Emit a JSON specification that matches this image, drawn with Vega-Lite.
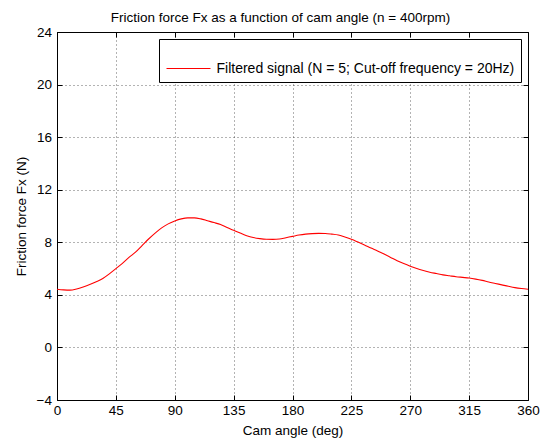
{
  "$schema": "https://vega.github.io/schema/vega-lite/v6.json",
  "width": 471,
  "height": 368,
  "autosize": {"type": "none"},
  "padding": {"left": 57, "top": 32, "right": 14, "bottom": 41},
  "background": "white",
  "title": {
    "text": "Friction force Fx as a function of cam angle (n = 400rpm)",
    "font": "Liberation Sans",
    "fontSize": 13.5,
    "fontWeight": "normal",
    "color": "#000000",
    "offset": 1,
    "dx": -12
  },
  "config": {
    "view": {"stroke": "#000000", "strokeWidth": 1},
    "font": "Liberation Sans"
  },
  "data": {
    "values": [
      {"angle": 0, "fx": 4.43, "series": "Filtered signal (N = 5; Cut-off frequency = 20Hz)"},
      {"angle": 5, "fx": 4.38, "series": "Filtered signal (N = 5; Cut-off frequency = 20Hz)"},
      {"angle": 10, "fx": 4.36, "series": "Filtered signal (N = 5; Cut-off frequency = 20Hz)"},
      {"angle": 15, "fx": 4.45, "series": "Filtered signal (N = 5; Cut-off frequency = 20Hz)"},
      {"angle": 20, "fx": 4.6, "series": "Filtered signal (N = 5; Cut-off frequency = 20Hz)"},
      {"angle": 25, "fx": 4.78, "series": "Filtered signal (N = 5; Cut-off frequency = 20Hz)"},
      {"angle": 30, "fx": 5.0, "series": "Filtered signal (N = 5; Cut-off frequency = 20Hz)"},
      {"angle": 35, "fx": 5.25, "series": "Filtered signal (N = 5; Cut-off frequency = 20Hz)"},
      {"angle": 40, "fx": 5.6, "series": "Filtered signal (N = 5; Cut-off frequency = 20Hz)"},
      {"angle": 45, "fx": 6.0, "series": "Filtered signal (N = 5; Cut-off frequency = 20Hz)"},
      {"angle": 50, "fx": 6.4, "series": "Filtered signal (N = 5; Cut-off frequency = 20Hz)"},
      {"angle": 55, "fx": 6.85, "series": "Filtered signal (N = 5; Cut-off frequency = 20Hz)"},
      {"angle": 60, "fx": 7.25, "series": "Filtered signal (N = 5; Cut-off frequency = 20Hz)"},
      {"angle": 65, "fx": 7.75, "series": "Filtered signal (N = 5; Cut-off frequency = 20Hz)"},
      {"angle": 70, "fx": 8.25, "series": "Filtered signal (N = 5; Cut-off frequency = 20Hz)"},
      {"angle": 75, "fx": 8.7, "series": "Filtered signal (N = 5; Cut-off frequency = 20Hz)"},
      {"angle": 80, "fx": 9.1, "series": "Filtered signal (N = 5; Cut-off frequency = 20Hz)"},
      {"angle": 85, "fx": 9.4, "series": "Filtered signal (N = 5; Cut-off frequency = 20Hz)"},
      {"angle": 90, "fx": 9.62, "series": "Filtered signal (N = 5; Cut-off frequency = 20Hz)"},
      {"angle": 95, "fx": 9.78, "series": "Filtered signal (N = 5; Cut-off frequency = 20Hz)"},
      {"angle": 100, "fx": 9.86, "series": "Filtered signal (N = 5; Cut-off frequency = 20Hz)"},
      {"angle": 105, "fx": 9.86, "series": "Filtered signal (N = 5; Cut-off frequency = 20Hz)"},
      {"angle": 110, "fx": 9.78, "series": "Filtered signal (N = 5; Cut-off frequency = 20Hz)"},
      {"angle": 115, "fx": 9.64, "series": "Filtered signal (N = 5; Cut-off frequency = 20Hz)"},
      {"angle": 120, "fx": 9.5, "series": "Filtered signal (N = 5; Cut-off frequency = 20Hz)"},
      {"angle": 125, "fx": 9.35, "series": "Filtered signal (N = 5; Cut-off frequency = 20Hz)"},
      {"angle": 130, "fx": 9.12, "series": "Filtered signal (N = 5; Cut-off frequency = 20Hz)"},
      {"angle": 135, "fx": 8.91, "series": "Filtered signal (N = 5; Cut-off frequency = 20Hz)"},
      {"angle": 140, "fx": 8.7, "series": "Filtered signal (N = 5; Cut-off frequency = 20Hz)"},
      {"angle": 145, "fx": 8.5, "series": "Filtered signal (N = 5; Cut-off frequency = 20Hz)"},
      {"angle": 150, "fx": 8.36, "series": "Filtered signal (N = 5; Cut-off frequency = 20Hz)"},
      {"angle": 155, "fx": 8.28, "series": "Filtered signal (N = 5; Cut-off frequency = 20Hz)"},
      {"angle": 160, "fx": 8.23, "series": "Filtered signal (N = 5; Cut-off frequency = 20Hz)"},
      {"angle": 165, "fx": 8.22, "series": "Filtered signal (N = 5; Cut-off frequency = 20Hz)"},
      {"angle": 170, "fx": 8.25, "series": "Filtered signal (N = 5; Cut-off frequency = 20Hz)"},
      {"angle": 175, "fx": 8.35, "series": "Filtered signal (N = 5; Cut-off frequency = 20Hz)"},
      {"angle": 180, "fx": 8.45, "series": "Filtered signal (N = 5; Cut-off frequency = 20Hz)"},
      {"angle": 185, "fx": 8.55, "series": "Filtered signal (N = 5; Cut-off frequency = 20Hz)"},
      {"angle": 190, "fx": 8.62, "series": "Filtered signal (N = 5; Cut-off frequency = 20Hz)"},
      {"angle": 195, "fx": 8.66, "series": "Filtered signal (N = 5; Cut-off frequency = 20Hz)"},
      {"angle": 200, "fx": 8.68, "series": "Filtered signal (N = 5; Cut-off frequency = 20Hz)"},
      {"angle": 205, "fx": 8.67, "series": "Filtered signal (N = 5; Cut-off frequency = 20Hz)"},
      {"angle": 210, "fx": 8.62, "series": "Filtered signal (N = 5; Cut-off frequency = 20Hz)"},
      {"angle": 215, "fx": 8.55, "series": "Filtered signal (N = 5; Cut-off frequency = 20Hz)"},
      {"angle": 220, "fx": 8.4, "series": "Filtered signal (N = 5; Cut-off frequency = 20Hz)"},
      {"angle": 225, "fx": 8.23, "series": "Filtered signal (N = 5; Cut-off frequency = 20Hz)"},
      {"angle": 230, "fx": 8.02, "series": "Filtered signal (N = 5; Cut-off frequency = 20Hz)"},
      {"angle": 235, "fx": 7.8, "series": "Filtered signal (N = 5; Cut-off frequency = 20Hz)"},
      {"angle": 240, "fx": 7.56, "series": "Filtered signal (N = 5; Cut-off frequency = 20Hz)"},
      {"angle": 245, "fx": 7.34, "series": "Filtered signal (N = 5; Cut-off frequency = 20Hz)"},
      {"angle": 250, "fx": 7.1, "series": "Filtered signal (N = 5; Cut-off frequency = 20Hz)"},
      {"angle": 255, "fx": 6.85, "series": "Filtered signal (N = 5; Cut-off frequency = 20Hz)"},
      {"angle": 260, "fx": 6.6, "series": "Filtered signal (N = 5; Cut-off frequency = 20Hz)"},
      {"angle": 265, "fx": 6.38, "series": "Filtered signal (N = 5; Cut-off frequency = 20Hz)"},
      {"angle": 270, "fx": 6.18, "series": "Filtered signal (N = 5; Cut-off frequency = 20Hz)"},
      {"angle": 275, "fx": 6.0, "series": "Filtered signal (N = 5; Cut-off frequency = 20Hz)"},
      {"angle": 280, "fx": 5.85, "series": "Filtered signal (N = 5; Cut-off frequency = 20Hz)"},
      {"angle": 285, "fx": 5.72, "series": "Filtered signal (N = 5; Cut-off frequency = 20Hz)"},
      {"angle": 290, "fx": 5.62, "series": "Filtered signal (N = 5; Cut-off frequency = 20Hz)"},
      {"angle": 295, "fx": 5.52, "series": "Filtered signal (N = 5; Cut-off frequency = 20Hz)"},
      {"angle": 300, "fx": 5.45, "series": "Filtered signal (N = 5; Cut-off frequency = 20Hz)"},
      {"angle": 305, "fx": 5.38, "series": "Filtered signal (N = 5; Cut-off frequency = 20Hz)"},
      {"angle": 310, "fx": 5.33, "series": "Filtered signal (N = 5; Cut-off frequency = 20Hz)"},
      {"angle": 315, "fx": 5.28, "series": "Filtered signal (N = 5; Cut-off frequency = 20Hz)"},
      {"angle": 320, "fx": 5.2, "series": "Filtered signal (N = 5; Cut-off frequency = 20Hz)"},
      {"angle": 325, "fx": 5.1, "series": "Filtered signal (N = 5; Cut-off frequency = 20Hz)"},
      {"angle": 330, "fx": 4.98, "series": "Filtered signal (N = 5; Cut-off frequency = 20Hz)"},
      {"angle": 335, "fx": 4.87, "series": "Filtered signal (N = 5; Cut-off frequency = 20Hz)"},
      {"angle": 340, "fx": 4.76, "series": "Filtered signal (N = 5; Cut-off frequency = 20Hz)"},
      {"angle": 345, "fx": 4.65, "series": "Filtered signal (N = 5; Cut-off frequency = 20Hz)"},
      {"angle": 350, "fx": 4.55, "series": "Filtered signal (N = 5; Cut-off frequency = 20Hz)"},
      {"angle": 355, "fx": 4.48, "series": "Filtered signal (N = 5; Cut-off frequency = 20Hz)"},
      {"angle": 360, "fx": 4.43, "series": "Filtered signal (N = 5; Cut-off frequency = 20Hz)"}
    ]
  },
  "layer": [
    {
      "mark": {"type": "line", "opacity": 0},
      "encoding": {
        "x": {
          "field": "angle",
          "type": "quantitative",
          "scale": {"domain": [0, 360], "nice": false, "zero": false},
          "axis": {
            "orient": "top",
            "title": null,
            "values": [0, 45, 90, 135, 180, 225, 270, 315, 360],
            "grid": false,
            "domain": false,
            "labels": false,
            "ticks": true,
            "tickSize": -5,
            "tickColor": "#000000"
          }
        },
        "y": {
          "field": "fx",
          "type": "quantitative",
          "scale": {"domain": [-4, 24], "nice": false, "zero": false},
          "axis": {
            "orient": "right",
            "title": null,
            "values": [-4, 0, 4, 8, 12, 16, 20, 24],
            "grid": false,
            "domain": false,
            "labels": false,
            "ticks": true,
            "tickSize": -5,
            "tickColor": "#000000"
          }
        }
      }
    },
    {
      "mark": {"type": "line", "strokeWidth": 1.1, "interpolate": "monotone"},
      "encoding": {
        "x": {
          "field": "angle",
          "type": "quantitative",
          "scale": {"domain": [0, 360], "nice": false, "zero": false},
          "axis": {
            "orient": "bottom",
            "title": "Cam angle (deg)",
            "values": [0, 45, 90, 135, 180, 225, 270, 315, 360],
            "grid": true,
            "gridColor": "#000000",
            "gridDash": [1, 3],
            "gridOpacity": 0.6,
            "domain": false,
            "ticks": true,
            "tickSize": -5,
            "tickColor": "#000000",
            "labelPadding": 8,
            "labelFont": "Liberation Sans",
            "labelFontSize": 13.5,
            "labelColor": "#000000",
            "labelFlush": false,
            "titleFont": "Liberation Sans",
            "titleFontSize": 13.5,
            "titleFontWeight": "normal",
            "titleColor": "#000000",
            "titlePadding": 7
          }
        },
        "y": {
          "field": "fx",
          "type": "quantitative",
          "scale": {"domain": [-4, 24], "nice": false, "zero": false},
          "axis": {
            "orient": "left",
            "title": "Friction force Fx (N)",
            "values": [-4, 0, 4, 8, 12, 16, 20, 24],
            "grid": true,
            "gridColor": "#000000",
            "gridDash": [1, 3],
            "gridOpacity": 0.6,
            "domain": false,
            "ticks": true,
            "tickSize": -5,
            "tickColor": "#000000",
            "labelPadding": 10.5,
            "labelFont": "Liberation Sans",
            "labelFontSize": 13.5,
            "labelColor": "#000000",
            "labelFlush": false,
            "titleFont": "Liberation Sans",
            "titleFontSize": 13.5,
            "titleFontWeight": "normal",
            "titleColor": "#000000",
            "titlePadding": 8
          }
        },
        "color": {
          "field": "series",
          "type": "nominal",
          "scale": {"range": ["#ff0000"]},
          "legend": {
            "title": null,
            "orient": "top-right",
            "offset": 7,
            "symbolType": "stroke",
            "symbolSize": 1936,
            "symbolStrokeWidth": 1.1,
            "labelFont": "Liberation Sans",
            "labelFontSize": 14,
            "labelColor": "#000000",
            "labelLimit": 400,
            "strokeColor": "#000000",
            "fillColor": "#ffffff",
            "padding": 6.5,
            "labelOffset": 5
          }
        }
      }
    }
  ],
  "resolve": {"axis": {"x": "independent", "y": "independent"}}
}
